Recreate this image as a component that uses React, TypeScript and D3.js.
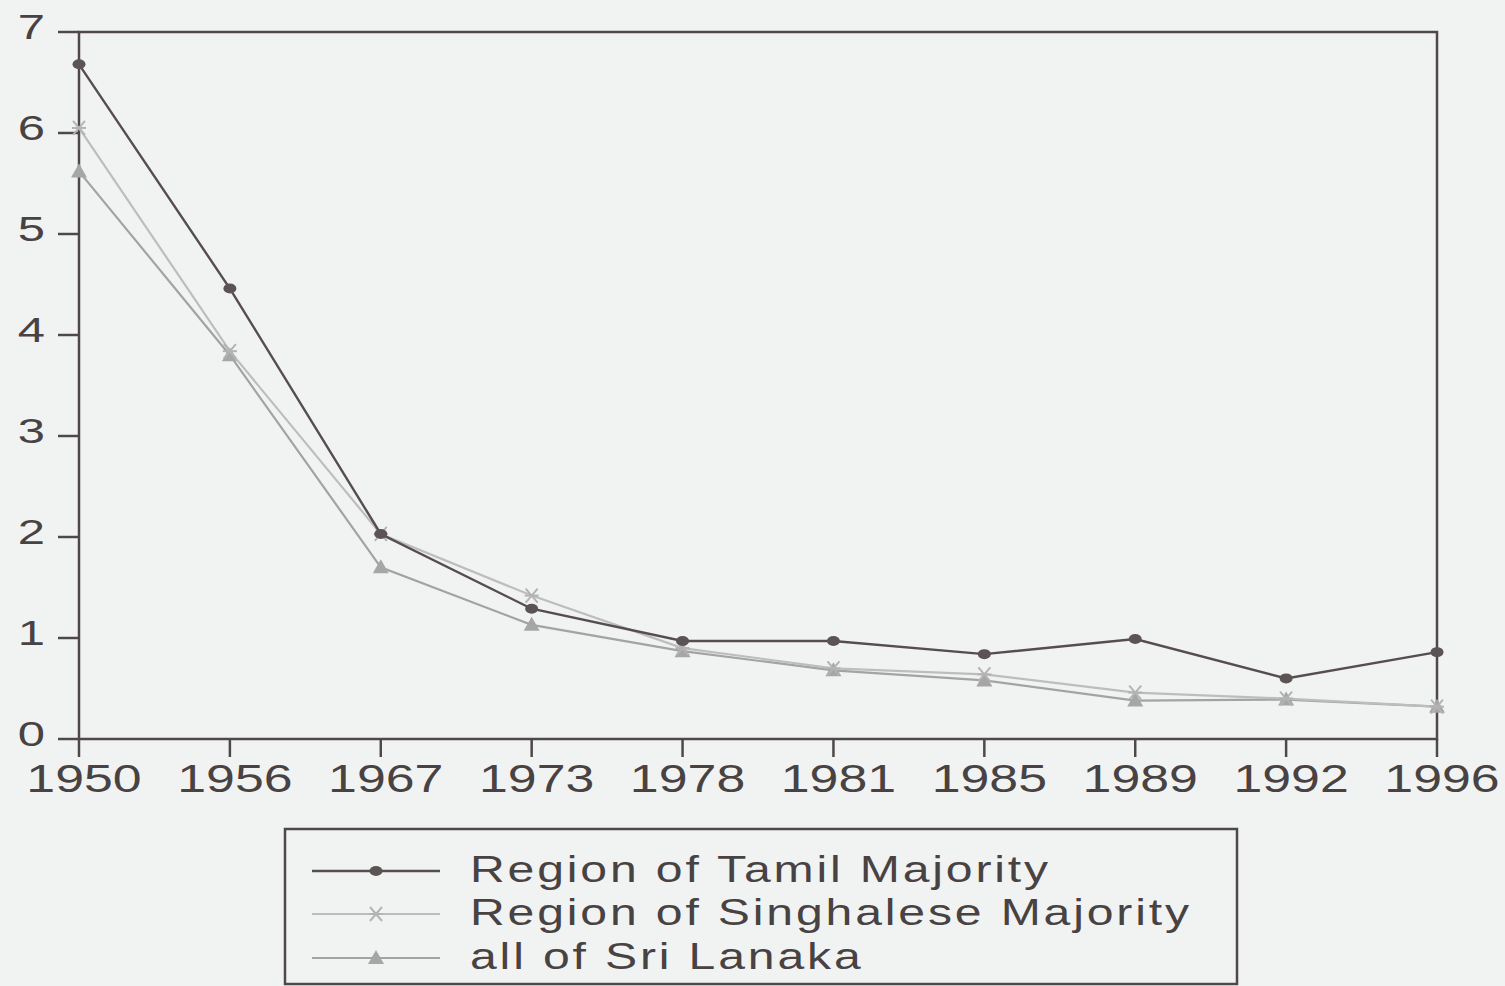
import React from "react";
import * as d3 from "d3";

const years = ["1950", "1956", "1967", "1973", "1978", "1981", "1985", "1989", "1992", "1996"];
const tamil = [6.68, 4.46, 2.03, 1.29, 0.97, 0.97, 0.84, 0.99, 0.6, 0.86];
const singhalese = [6.05, 3.84, 2.03, 1.42, 0.9, 0.7, 0.64, 0.46, 0.4, 0.32];
const allSriLanka = [5.62, 3.8, 1.7, 1.13, 0.87, 0.68, 0.58, 0.38, 0.39, 0.32];
const yTicks = [0, 1, 2, 3, 4, 5, 6, 7];
const seriesNames = ["Region of Tamil Majority", "Region of Singhalese Majority", "all of Sri Lanaka"];

const W = 1505;
const H = 986;
const left = 79;
const right = 1437;
const top = 32;
const bottom = 739;
const FONT = "'Liberation Sans', Arial, sans-serif";
const BG = "#f1f3f3";
const AXIS = "#4f4848";
const TEXT = "#484242";

type Series = { name: string; values: number[]; color: string; marker: "circle" | "x" | "tri"; mcolor: string; width: number };

const series: Series[] = [
  { name: seriesNames[0], values: tamil, color: "#564e4e", marker: "circle", mcolor: "#5c5454", width: 2.4 },
  { name: seriesNames[1], values: singhalese, color: "#bdbdbd", marker: "x", mcolor: "#b3b3b3", width: 2.2 },
  { name: seriesNames[2], values: allSriLanka, color: "#a3a3a3", marker: "tri", mcolor: "#a6a6a6", width: 2.2 },
];

function Marker({ kind, x, y, color }: { kind: string; x: number; y: number; color: string }) {
  if (kind === "circle") return <ellipse cx={x} cy={y} rx={6.5} ry={5} fill={color} />;
  if (kind === "x")
    return (
      <g stroke={color} strokeWidth={2}>
        <line x1={x - 6} y1={y - 7} x2={x + 6} y2={y + 7} />
        <line x1={x - 6} y1={y + 7} x2={x + 6} y2={y - 7} />
        <line x1={x - 7} y1={y} x2={x + 7} y2={y} />
      </g>
    );
  return <path d={`M${x},${y - 8} L${x + 8},${y + 6} L${x - 8},${y + 6} Z`} fill={color} />;
}

function SText({
  x,
  y,
  sx,
  size,
  anchor,
  ls,
  children,
}: {
  x: number;
  y: number;
  sx: number;
  size: number;
  anchor: "start" | "middle" | "end";
  ls?: number;
  children: React.ReactNode;
}) {
  return (
    <text
      transform={`translate(${x},${y}) scale(${sx},1)`}
      x={0}
      y={0}
      textAnchor={anchor}
      fontFamily={FONT}
      fontSize={size}
      letterSpacing={ls || 0}
      fill={TEXT}
    >
      {children}
    </text>
  );
}

export default function App() {
  const x = d3.scalePoint<string>().domain(years).range([left, right]);
  const y = d3.scaleLinear().domain([0, 7]).range([bottom, top]);
  const line = d3
    .line<number>()
    .x((_, i) => x(years[i]) as number)
    .y((d) => y(d));

  const legX = 285;
  const legY = 829;
  const legW = 952;
  const legH = 155;
  const rowY = [871, 914, 958];

  return (
    <div style={{ position: "fixed", left: 0, top: 0, width: W, height: H, overflow: "hidden" }}>
      <svg width={W} height={H} style={{ display: "block", background: BG }}>
        <rect x={0} y={0} width={W} height={H} fill={BG} />
        {/* frame */}
        <rect x={left} y={top} width={right - left} height={bottom - top} fill="none" stroke={AXIS} strokeWidth={2.5} />
        {/* y ticks */}
        {yTicks.map((t) => (
          <g key={t}>
            <line x1={left - 21} x2={left} y1={y(t)} y2={y(t)} stroke={AXIS} strokeWidth={2.5} />
            <SText x={45} y={y(t) + 7} sx={1.4} size={35} anchor="end">
              {t}
            </SText>
          </g>
        ))}
        {/* x ticks */}
        {years.map((yr) => (
          <g key={yr}>
            <line x1={x(yr)} x2={x(yr)} y1={bottom} y2={bottom + 18} stroke={AXIS} strokeWidth={2.5} />
            <SText x={(x(yr) as number) + 5} y={792} sx={1.33} size={39} anchor="middle">
              {yr}
            </SText>
          </g>
        ))}
        {/* series lines (draw lightest first) */}
        {[...series].reverse().map((s) => (
          <g key={s.name}>
            <path d={line(s.values) || ""} fill="none" stroke={s.color} strokeWidth={s.width} />
            {s.values.map((v, i) => (
              <Marker key={i} kind={s.marker} x={x(years[i]) as number} y={y(v)} color={s.mcolor} />
            ))}
          </g>
        ))}
        {/* legend */}
        <rect x={legX} y={legY} width={legW} height={legH} fill="none" stroke={AXIS} strokeWidth={2.5} />
        {series.map((s, i) => (
          <g key={s.name}>
            <line x1={312} x2={440} y1={rowY[i]} y2={rowY[i]} stroke={s.color} strokeWidth={s.width} />
            <Marker kind={s.marker} x={376} y={rowY[i]} color={s.mcolor} />
            <SText x={470} y={rowY[i] + 11} sx={1.3} size={37} anchor="start" ls={2.2}>
              {s.name}
            </SText>
          </g>
        ))}
      </svg>
    </div>
  );
}
